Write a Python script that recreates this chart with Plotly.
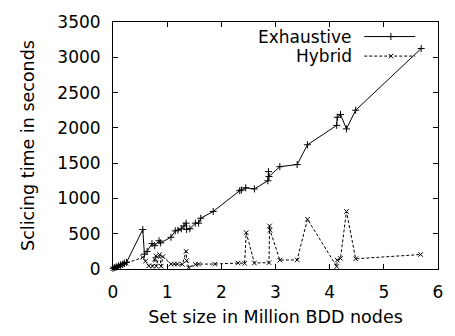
import plotly.graph_objects as go

# ---- data ----
exh_x = [0.00, 0.03, 0.06, 0.10, 0.14, 0.18, 0.21, 0.25, 0.55, 0.58, 0.63, 0.72, 0.77, 0.85, 0.88,
         1.07, 1.15, 1.20, 1.26, 1.31, 1.35, 1.36, 1.42, 1.52, 1.58, 1.62, 1.85, 2.34, 2.37, 2.45,
         2.61, 2.86, 2.87, 2.88, 3.08, 3.40, 3.59, 4.13, 4.14, 4.20, 4.31, 4.48, 5.69]
exh_y = [10, 20, 30, 45, 60, 70, 85, 95, 560, 210, 250, 360, 330, 400, 370,
         450, 540, 550, 570, 610, 650, 560, 570, 650, 650, 720, 815, 1110, 1120, 1150,
         1135, 1250, 1380, 1310, 1450, 1480, 1760, 2035, 2150, 2190, 1985, 2250, 3125]

hyb_x = [0.00, 0.03, 0.06, 0.10, 0.14, 0.18, 0.24, 0.55, 0.60, 0.66, 0.73, 0.77, 0.79, 0.80, 0.86,
         0.89, 0.92, 1.07, 1.13, 1.19, 1.28, 1.35, 1.36, 1.40, 1.52, 1.58, 1.88, 2.31, 2.43, 2.46,
         2.61, 2.88, 2.89, 2.90, 3.08, 3.40, 3.59, 4.13, 4.14, 4.20, 4.31, 4.48, 5.68]
hyb_y = [5, 15, 25, 35, 45, 60, 80, 165, 110, 45, 40, 140, 185, 40, 205,
         40, 175, 70, 70, 70, 65, 250, 120, 20, 65, 70, 70, 85, 80, 515,
         85, 90, 610, 550, 125, 130, 705, 35, 125, 150, 815, 145, 205]

x_ticks = [0, 1, 2, 3, 4, 5, 6]
y_ticks = [0, 500, 1000, 1500, 2000, 2500, 3000, 3500]
series_names = ["Exhaustive", "Hybrid"]
x_title = "Set size in Million BDD nodes"
y_title = "Sclicing time in seconds"

FONT = "DejaVu Sans"
FS = 17

styles = [
    dict(dash="solid", symbol="cross-thin", size=5),
    dict(dash="3px,2px", symbol="x-thin", size=4.5),
]

fig = go.Figure()
for name, xs, ys, st in zip(series_names, [exh_x, hyb_x], [exh_y, hyb_y], styles):
    fig.add_trace(go.Scatter(
        x=xs, y=ys, mode="lines+markers", name=name, showlegend=False, cliponaxis=False,
        line=dict(color="black", width=1, dash=st["dash"]),
        marker=dict(symbol=st["symbol"], size=st["size"], color="black",
                    line=dict(color="black", width=1)),
    ))

# gnuplot-style key: text on the left, sample on the right
leg_y = [0.941, 0.862]
for name, ly, st in zip(series_names, leg_y, styles):
    fig.add_trace(go.Scatter(
        x=[0.773, 0.930], y=[ly, ly], xaxis="x2", yaxis="y2", mode="lines",
        showlegend=False, hoverinfo="skip", cliponaxis=False,
        line=dict(color="black", width=1, dash=st["dash"]),
    ))
    fig.add_trace(go.Scatter(
        x=[0.855], y=[ly], xaxis="x2", yaxis="y2", mode="markers",
        showlegend=False, hoverinfo="skip", cliponaxis=False,
        marker=dict(symbol=st["symbol"], size=st["size"], color="black",
                    line=dict(color="black", width=1)),
    ))
    fig.add_annotation(x=0.742, y=ly, xref="paper", yref="paper", text=name,
                       xanchor="right", yanchor="middle", showarrow=False,
                       font=dict(family=FONT, size=FS, color="black"))

axis_common = dict(
    ticks="inside", ticklen=5, tickwidth=1, tickcolor="black",
    showline=True, linecolor="black", linewidth=1, mirror="ticks",
    showgrid=False, zeroline=False,
    tickfont=dict(family=FONT, size=FS, color="black"),
)

fig.update_layout(
    width=455, height=336,
    margin=dict(l=113, r=12, t=17, b=66),
    paper_bgcolor="white", plot_bgcolor="white",
    font=dict(family=FONT, size=FS, color="black"),
    showlegend=False,
    xaxis=dict(range=[0, 6], tickvals=x_ticks, ticklabelstandoff=8,
               title=dict(text=x_title, font=dict(family=FONT, size=17.5, color="black"), standoff=9),
               **axis_common),
    yaxis=dict(range=[0, 3500], tickvals=y_ticks, ticklabelstandoff=8,
               title=dict(text=y_title, font=dict(family=FONT, size=17.5, color="black"), standoff=18),
               **axis_common),
    xaxis2=dict(range=[0, 1], overlaying="x", visible=False, fixedrange=True),
    yaxis2=dict(range=[0, 1], overlaying="y", visible=False, fixedrange=True),
)

fig.write_html("out.html")
